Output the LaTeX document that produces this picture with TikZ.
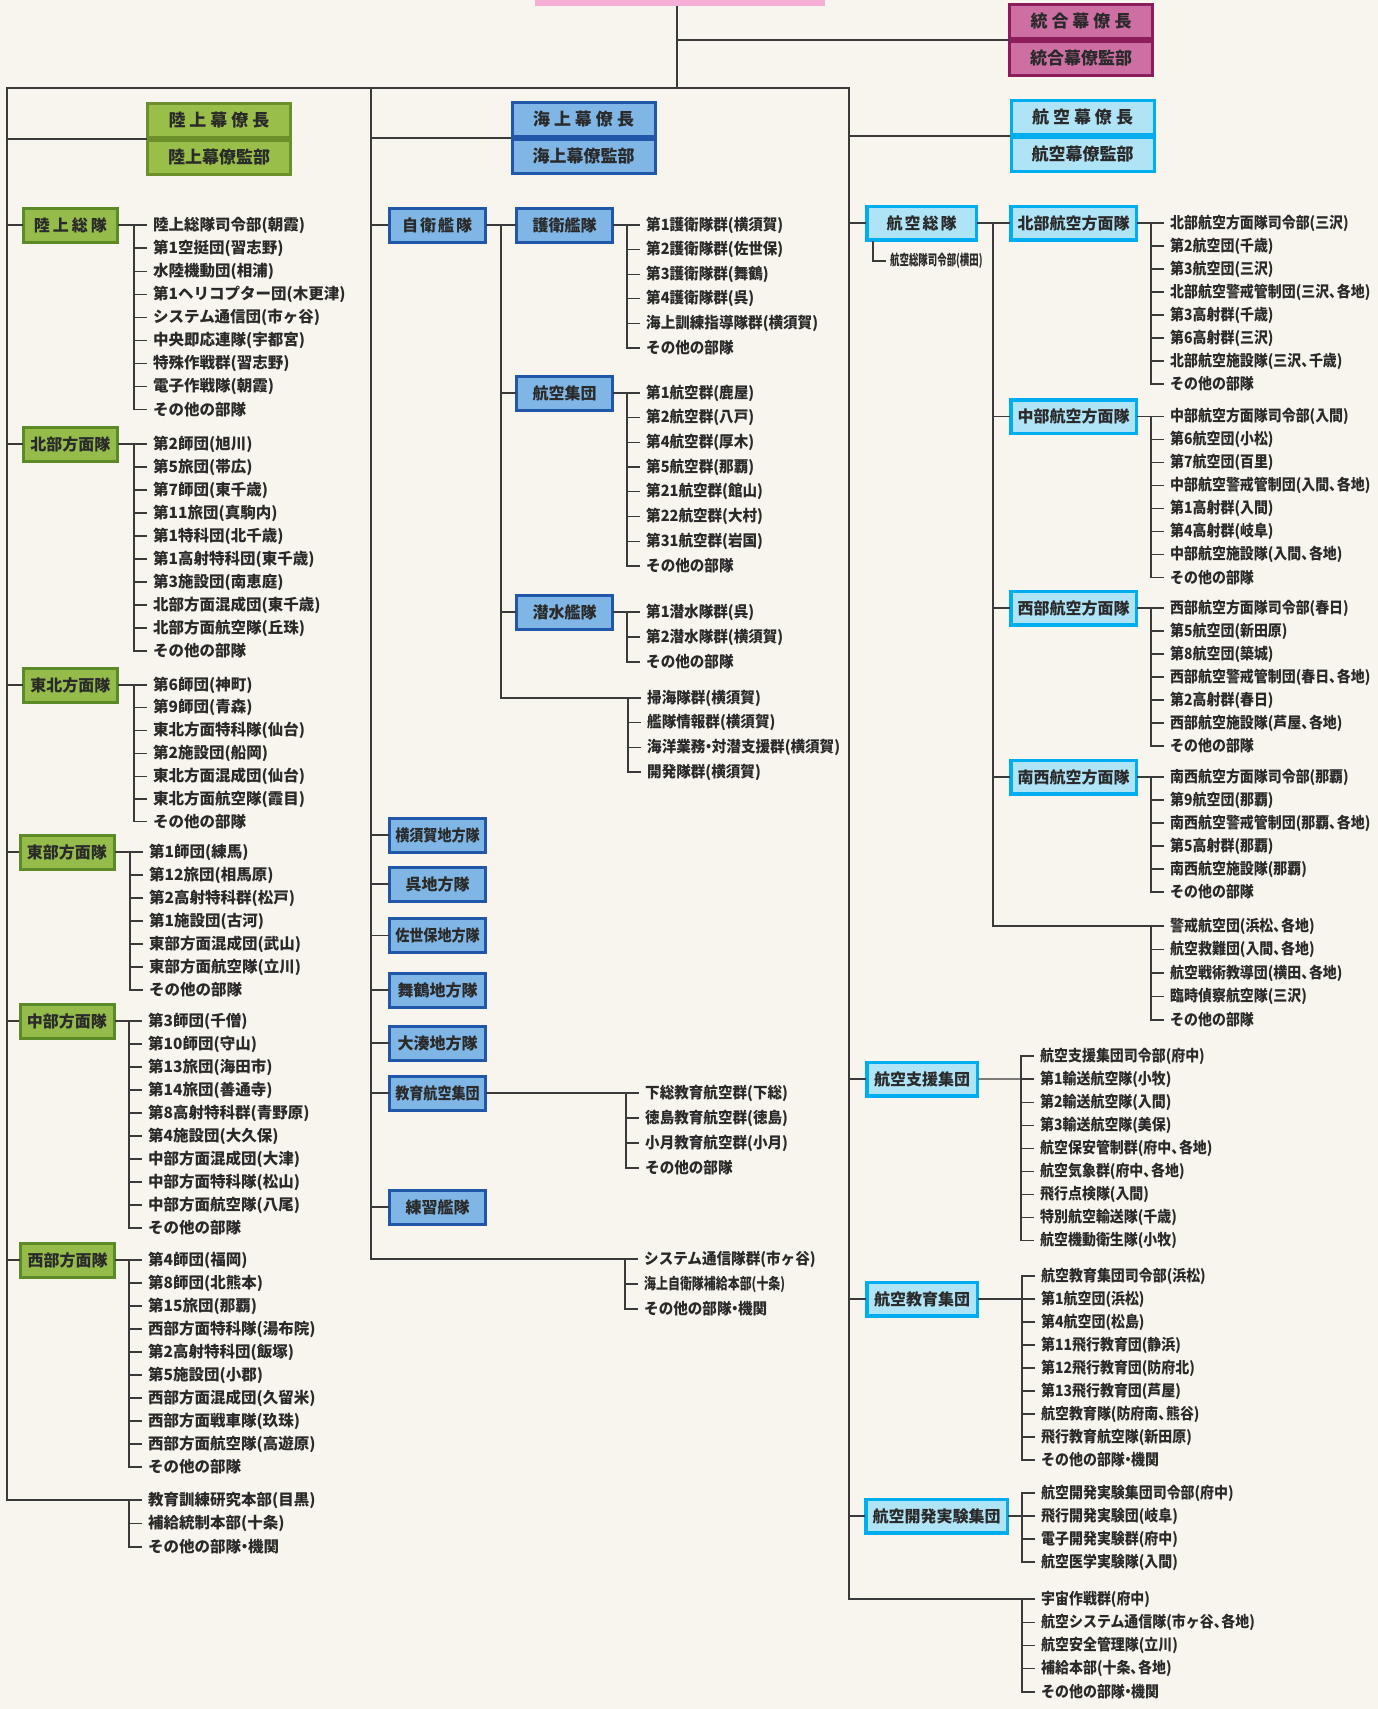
\documentclass[tikz,border=0pt]{standalone}
\usepackage{fontspec}
\usepackage{graphicx}
\newfontfamily\jp{Noto Sans CJK JP}
\definecolor{bg}{HTML}{F8F5EE}
\definecolor{lnc}{HTML}{3A3A3A}
\definecolor{txc}{HTML}{2A2A2A}
\definecolor{pinkc}{HTML}{F6AED6}
\definecolor{jfill}{HTML}{CD6FA2}
\definecolor{jdraw}{HTML}{8C1C5C}
\definecolor{gsfill}{HTML}{99BF4A}
\definecolor{gsdraw}{HTML}{6C8F2B}
\definecolor{gfill}{HTML}{95BC4B}
\definecolor{gdraw}{HTML}{5C8A27}
\definecolor{nfill}{HTML}{7FB6E5}
\definecolor{ndraw}{HTML}{2157A8}
\definecolor{afill}{HTML}{AFE3F6}
\definecolor{adraw}{HTML}{00AEEF}
\tikzset{
  ln/.style={draw=lnc, line width=1.3pt, line cap=rect},
  itm/.style={anchor=west, inner sep=0pt, text=txc, font=\jp\bfseries\fontsize{15.5}{16}\selectfont},
  ubox/.style={inner sep=0pt, line width=3pt, minimum height=34pt, text=txc, font=\jp\bfseries\fontsize{16}{16}\selectfont},
  gbox/.style={ubox, fill=gfill, draw=gdraw, minimum width=94pt},
  nbox/.style={ubox, fill=nfill, draw=ndraw, minimum width=96pt},
  abox/.style={ubox, fill=afill, draw=adraw, line width=3.5pt, minimum height=33.5pt},
  staff/.style={inner sep=0pt, line width=3pt, minimum width=143pt, minimum height=34pt, text=txc, font=\jp\bfseries\fontsize{17}{17}\selectfont},
  jstaff/.style={staff, fill=jfill, draw=jdraw},
  gstaff/.style={staff, fill=gsfill, draw=gsdraw},
  nstaff/.style={staff, fill=nfill, draw=ndraw},
  astaff/.style={staff, fill=afill, draw=adraw},
}
\newcommand\brlist[6]{%
  \foreach \t [count=\i from 0] in {#6}{%
    \pgfmathsetmacro\yy{#3+\i*#4}%
    \node[itm] (#1\i) at (#2+19,\yy) {\scalebox{#5}[1]{\t}};
    \draw[ln] (#2,\yy) -- ([xshift=-7pt]#1\i.west);
    \ifnum\i>0 \draw[ln] (#2,\yy-#4) -- (#2,\yy); \fi
  }%
}
\newcommand\gsp{\hspace{4pt}}
\newcommand\tn{、\kern-0.45em}
\newcommand\nk{\kern-0.28em・\kern-0.28em}
\begin{document}
\begin{tikzpicture}[x=1pt,y=-1pt]
\fill[bg] (0,0) rectangle (1378,1709);
% top
\node[fill=pinkc, minimum width=290pt, minimum height=6pt, inner sep=0pt] (top) at (680,3) {};
\coordinate (hub) at (677,88);
\coordinate (gT) at (7,88);
\coordinate (nT) at (371,88);
\coordinate (aT) at (849,88);
\coordinate (gB) at (7,1500);
\coordinate (nB) at (371,1259);
\coordinate (aB) at (849,1599);
\draw[ln] ([xshift=-3pt]top.south) -- (hub);
\draw[ln, line width=1.5pt] (gT) -- (aT);
\draw[ln] (gT) -- (gB);
\draw[ln] (nT) -- (nB);
\draw[ln] (aT) -- (aB);
% joint staff
\node[jstaff] (jA) at (1081,21.5) {統\gsp 合\gsp 幕\gsp 僚\gsp 長};
\node[jstaff] (jB) at (1081,58) {統合幕僚監部};
\draw[ln] (jA.south west -| hub) -- (jA.south west);
% staff offices
\node[gstaff] (gsA) at (219,120.5) {陸\gsp 上\gsp 幕\gsp 僚\gsp 長};
\node[gstaff] (gsB) at (219,157.5) {陸上幕僚監部};
\draw[ln] (gsA.south west -| gT) -- (gsA.south west);
\node[nstaff] (nsA) at (583.5,119.5) {海\gsp 上\gsp 幕\gsp 僚\gsp 長};
\node[nstaff] (nsB) at (583.5,156.5) {海上幕僚監部};
\draw[ln] (nsA.south west -| nT) -- (nsA.south west);
\node[astaff] (asA) at (1082.5,117.5) {航\gsp 空\gsp 幕\gsp 僚\gsp 長};
\node[astaff] (asB) at (1082.5,154.5) {航空幕僚監部};
\draw[ln] (asA.south west -| aT) -- (asA.south west);

% ===== Ground =====
\node[gbox] (g1) at (70.5,225) {陸\hspace{3pt}上\hspace{3pt}総\hspace{3pt}隊};
\draw[ln] (g1.west -| gT) -- (g1.west);
\brlist{g1i}{134}{225}{23.1}{1}{陸上総隊司令部(朝霞),第1空挺団(習志野),水陸機動団(相浦),第1ヘリコプター団(木更津),システム通信団(市ヶ谷),中央即応連隊(宇都宮),特殊作戦群(習志野),電子作戦隊(朝霞),その他の部隊}
\draw[ln] (g1.east) -- ([xshift=-7pt]g1i0.west);

\node[gbox] (g2) at (70.5,444) {北部方面隊};
\draw[ln] (g2.west -| gT) -- (g2.west);
\brlist{g2i}{134}{444}{23}{1}{第2師団(旭川),第5旅団(帯広),第7師団(東千歳),第11旅団(真駒内),第1特科団(北千歳),第1高射特科団(東千歳),第3施設団(南恵庭),北部方面混成団(東千歳),北部方面航空隊(丘珠),その他の部隊}
\draw[ln] (g2.east) -- ([xshift=-7pt]g2i0.west);

\node[gbox] (g3) at (70.5,685) {東北方面隊};
\draw[ln] (g3.west -| gT) -- (g3.west);
\brlist{g3i}{134}{685}{22.8}{1}{第6師団(神町),第9師団(青森),東北方面特科隊(仙台),第2施設団(船岡),東北方面混成団(仙台),東北方面航空隊(霞目),その他の部隊}
\draw[ln] (g3.east) -- ([xshift=-7pt]g3i0.west);

\node[gbox] (g4) at (67,852) {東部方面隊};
\draw[ln] (g4.west -| gT) -- (g4.west);
\brlist{g4i}{130}{852}{23}{1}{第1師団(練馬),第12旅団(相馬原),第2高射特科群(松戸),第1施設団(古河),東部方面混成団(武山),東部方面航空隊(立川),その他の部隊}
\draw[ln] (g4.east) -- ([xshift=-7pt]g4i0.west);

\node[gbox] (g5) at (67,1021) {中部方面隊};
\draw[ln] (g5.west -| gT) -- (g5.west);
\brlist{g5i}{129}{1021}{23}{1}{第3師団(千僧),第10師団(守山),第13旅団(海田市),第14旅団(善通寺),第8高射特科群(青野原),第4施設団(大久保),中部方面混成団(大津),中部方面特科隊(松山),中部方面航空隊(八尾),その他の部隊}
\draw[ln] (g5.east) -- ([xshift=-7pt]g5i0.west);

\node[gbox] (g6) at (67.5,1260) {西部方面隊};
\draw[ln] (g6.west -| gT) -- (g6.west);
\brlist{g6i}{129}{1260}{23}{1}{第4師団(福岡),第8師団(北熊本),第15旅団(那覇),西部方面特科隊(湯布院),第2高射特科団(飯塚),第5施設団(小郡),西部方面混成団(久留米),西部方面戦車隊(玖珠),西部方面航空隊(高遊原),その他の部隊}
\draw[ln] (g6.east) -- ([xshift=-7pt]g6i0.west);

\brlist{g7i}{129}{1500}{23.5}{1}{教育訓練研究本部(目黒),補給統制本部(十条),その他の部隊\nk 機関}
\draw[ln] (gB) -- ([xshift=-7pt]g7i0.west);

% ===== Navy =====
\coordinate (nv) at (501,225);
\coordinate (nvB) at (501,698);
\node[nbox] (n1) at (437,225) {自\hspace{2pt}衛\hspace{2pt}艦\hspace{2pt}隊};
\draw[ln] (n1.west -| nT) -- (n1.west);
\node[nbox] (n2) at (564.5,225) {護衛艦隊};
\draw[ln] (n1.east) -- (n2.west);
\draw[ln] (nv) -- (nvB);
\brlist{n2i}{627}{225}{24.6}{0.94}{第1護衛隊群(横須賀),第2護衛隊群(佐世保),第3護衛隊群(舞鶴),第4護衛隊群(呉),海上訓練指導隊群(横須賀),その他の部隊}
\draw[ln] (n2.east) -- ([xshift=-7pt]n2i0.west);

\node[nbox] (n3) at (564.5,393) {航空集団};
\draw[ln] (n3.west -| nv) -- (n3.west);
\brlist{n3i}{627}{393}{24.7}{0.94}{第1航空群(鹿屋),第2航空群(八戸),第4航空群(厚木),第5航空群(那覇),第21航空群(館山),第22航空群(大村),第31航空群(岩国),その他の部隊}
\draw[ln] (n3.east) -- ([xshift=-7pt]n3i0.west);

\node[nbox] (n4) at (564.5,612) {潜水艦隊};
\draw[ln] (n4.west -| nv) -- (n4.west);
\brlist{n4i}{627}{612}{25}{0.94}{第1潜水隊群(呉),第2潜水隊群(横須賀),その他の部隊}
\draw[ln] (n4.east) -- ([xshift=-7pt]n4i0.west);

\brlist{n5i}{628}{698}{24.7}{0.94}{掃海隊群(横須賀),艦隊情報群(横須賀),海洋業務\nk 対潜支援群(横須賀),開発隊群(横須賀)}
\draw[ln] (nvB) -- ([xshift=-7pt]n5i0.west);

\node[nbox] (n6) at (437.5,835) {\scalebox{0.88}[1]{横須賀地方隊}};
\node[nbox] (n7) at (437.5,884) {呉地方隊};
\node[nbox] (n8) at (437.5,935.5) {\scalebox{0.88}[1]{佐世保地方隊}};
\node[nbox] (n9) at (437.5,990) {舞鶴地方隊};
\node[nbox] (n10) at (437.5,1043) {大湊地方隊};
\node[nbox] (n11) at (437.5,1093) {\scalebox{0.88}[1]{教育航空集団}};
\node[nbox] (n12) at (437.5,1207) {練習艦隊};
\foreach \b in {n6,n7,n8,n9,n10,n11,n12}{\draw[ln] (\b.west -| nT) -- (\b.west);}
\brlist{n11i}{626}{1093}{25}{0.94}{下総教育航空群(下総),徳島教育航空群(徳島),小月教育航空群(小月),その他の部隊}
\draw[ln] (n11.east) -- ([xshift=-7pt]n11i0.west);

\brlist{n13i}{625}{1259}{25}{0.94}{システム通信隊群(市ヶ谷),\scalebox{0.82}[1]{海上自衛隊補給本部(十条)},その他の部隊\nk 機関}
\draw[ln] (nB) -- ([xshift=-7pt]n13i0.west);

% ===== Air =====
\coordinate (av) at (993,223);
\coordinate (avB) at (993,926);
\node[abox, minimum width=109.5pt] (a1) at (921.5,223) {航\hspace{2pt}空\hspace{2pt}総\hspace{2pt}隊};
\draw[ln] (a1.west -| aT) -- (a1.west);
\node[abox, minimum width=125.5pt] (a2) at (1073.5,223) {北部航空方面隊};
\draw[ln] (a1.east) -- (a2.west);
\draw[ln] (av) -- (avB);
\node[itm, font=\jp\bfseries\fontsize{14.5}{15}\selectfont] (a1s) at (890,261) {\scalebox{0.65}[1]{航空総隊司令部(横田)}};
\draw[ln] ([xshift=8pt]a1.south west) |- ([xshift=-5pt]a1s.west);
\brlist{a2i}{1151}{223}{23}{0.9}{北部航空方面隊司令部(三沢),第2航空団(千歳),第3航空団(三沢),北部航空警戒管制団(三沢\tn 各地),第3高射群(千歳),第6高射群(三沢),北部航空施設隊(三沢\tn 千歳),その他の部隊}
\draw[ln] (a2.east) -- ([xshift=-7pt]a2i0.west);

\node[abox, minimum width=125.5pt] (a3) at (1073.5,416.5) {中部航空方面隊};
\draw[ln] (a3.west -| av) -- (a3.west);
\brlist{a3i}{1151}{416.5}{23}{0.9}{中部航空方面隊司令部(入間),第6航空団(小松),第7航空団(百里),中部航空警戒管制団(入間\tn 各地),第1高射群(入間),第4高射群(岐阜),中部航空施設隊(入間\tn 各地),その他の部隊}
\draw[ln] (a3.east) -- ([xshift=-7pt]a3i0.west);

\node[abox, minimum width=125.5pt] (a4) at (1073.5,608) {西部航空方面隊};
\draw[ln] (a4.west -| av) -- (a4.west);
\brlist{a4i}{1151}{608}{23}{0.9}{西部航空方面隊司令部(春日),第5航空団(新田原),第8航空団(築城),西部航空警戒管制団(春日\tn 各地),第2高射群(春日),西部航空施設隊(芦屋\tn 各地),その他の部隊}
\draw[ln] (a4.east) -- ([xshift=-7pt]a4i0.west);

\node[abox, minimum width=125.5pt] (a5) at (1073.5,777) {南西航空方面隊};
\draw[ln] (a5.west -| av) -- (a5.west);
\brlist{a5i}{1151}{777}{23}{0.9}{南西航空方面隊司令部(那覇),第9航空団(那覇),南西航空警戒管制団(那覇\tn 各地),第5高射群(那覇),南西航空施設隊(那覇),その他の部隊}
\draw[ln] (a5.east) -- ([xshift=-7pt]a5i0.west);

\brlist{a6i}{1151}{926}{23.5}{0.9}{警戒航空団(浜松\tn 各地),航空救難団(入間\tn 各地),航空戦術教導団(横田\tn 各地),臨時偵察航空隊(三沢),その他の部隊}
\draw[ln] (avB) -- ([xshift=-7pt]a6i0.west);

\node[abox, minimum width=110.5pt] (a7) at (922,1079) {航空支援集団};
\draw[ln] (a7.west -| aT) -- (a7.west);
\brlist{a7i}{1021}{1056}{23.1}{0.9}{航空支援集団司令部(府中),第1輸送航空隊(小牧),第2輸送航空隊(入間),第3輸送航空隊(美保),航空保安管制群(府中\tn 各地),航空気象群(府中\tn 各地),飛行点検隊(入間),特別航空輸送隊(千歳),航空機動衛生隊(小牧)}
\draw[ln] (a7.east) -- ([xshift=-7pt]a7i1.west);

\node[abox, minimum width=110.5pt] (a8) at (922,1299) {航空教育集団};
\draw[ln] (a8.west -| aT) -- (a8.west);
\brlist{a8i}{1022}{1276}{23}{0.9}{航空教育集団司令部(浜松),第1航空団(浜松),第4航空団(松島),第11飛行教育団(静浜),第12飛行教育団(防府北),第13飛行教育団(芦屋),航空教育隊(防府南\tn 熊谷),飛行教育航空隊(新田原),その他の部隊\nk 機関}
\draw[ln] (a8.east) -- ([xshift=-7pt]a8i1.west);

\node[abox, minimum width=141.5pt] (a9) at (936.5,1516) {航空開発実験集団};
\draw[ln] (a9.west -| aT) -- (a9.west);
\brlist{a9i}{1022}{1493}{23}{0.9}{航空開発実験集団司令部(府中),飛行開発実験団(岐阜),電子開発実験群(府中),航空医学実験隊(入間)}
\draw[ln] (a9.east) -- ([xshift=-7pt]a9i1.west);

\brlist{a10i}{1022}{1599}{23.25}{0.9}{宇宙作戦群(府中),航空システム通信隊(市ヶ谷\tn 各地),航空安全管理隊(立川),補給本部(十条\tn 各地),その他の部隊\nk 機関}
\draw[ln] (aB) -- ([xshift=-7pt]a10i0.west);
\end{tikzpicture}
\end{document}
